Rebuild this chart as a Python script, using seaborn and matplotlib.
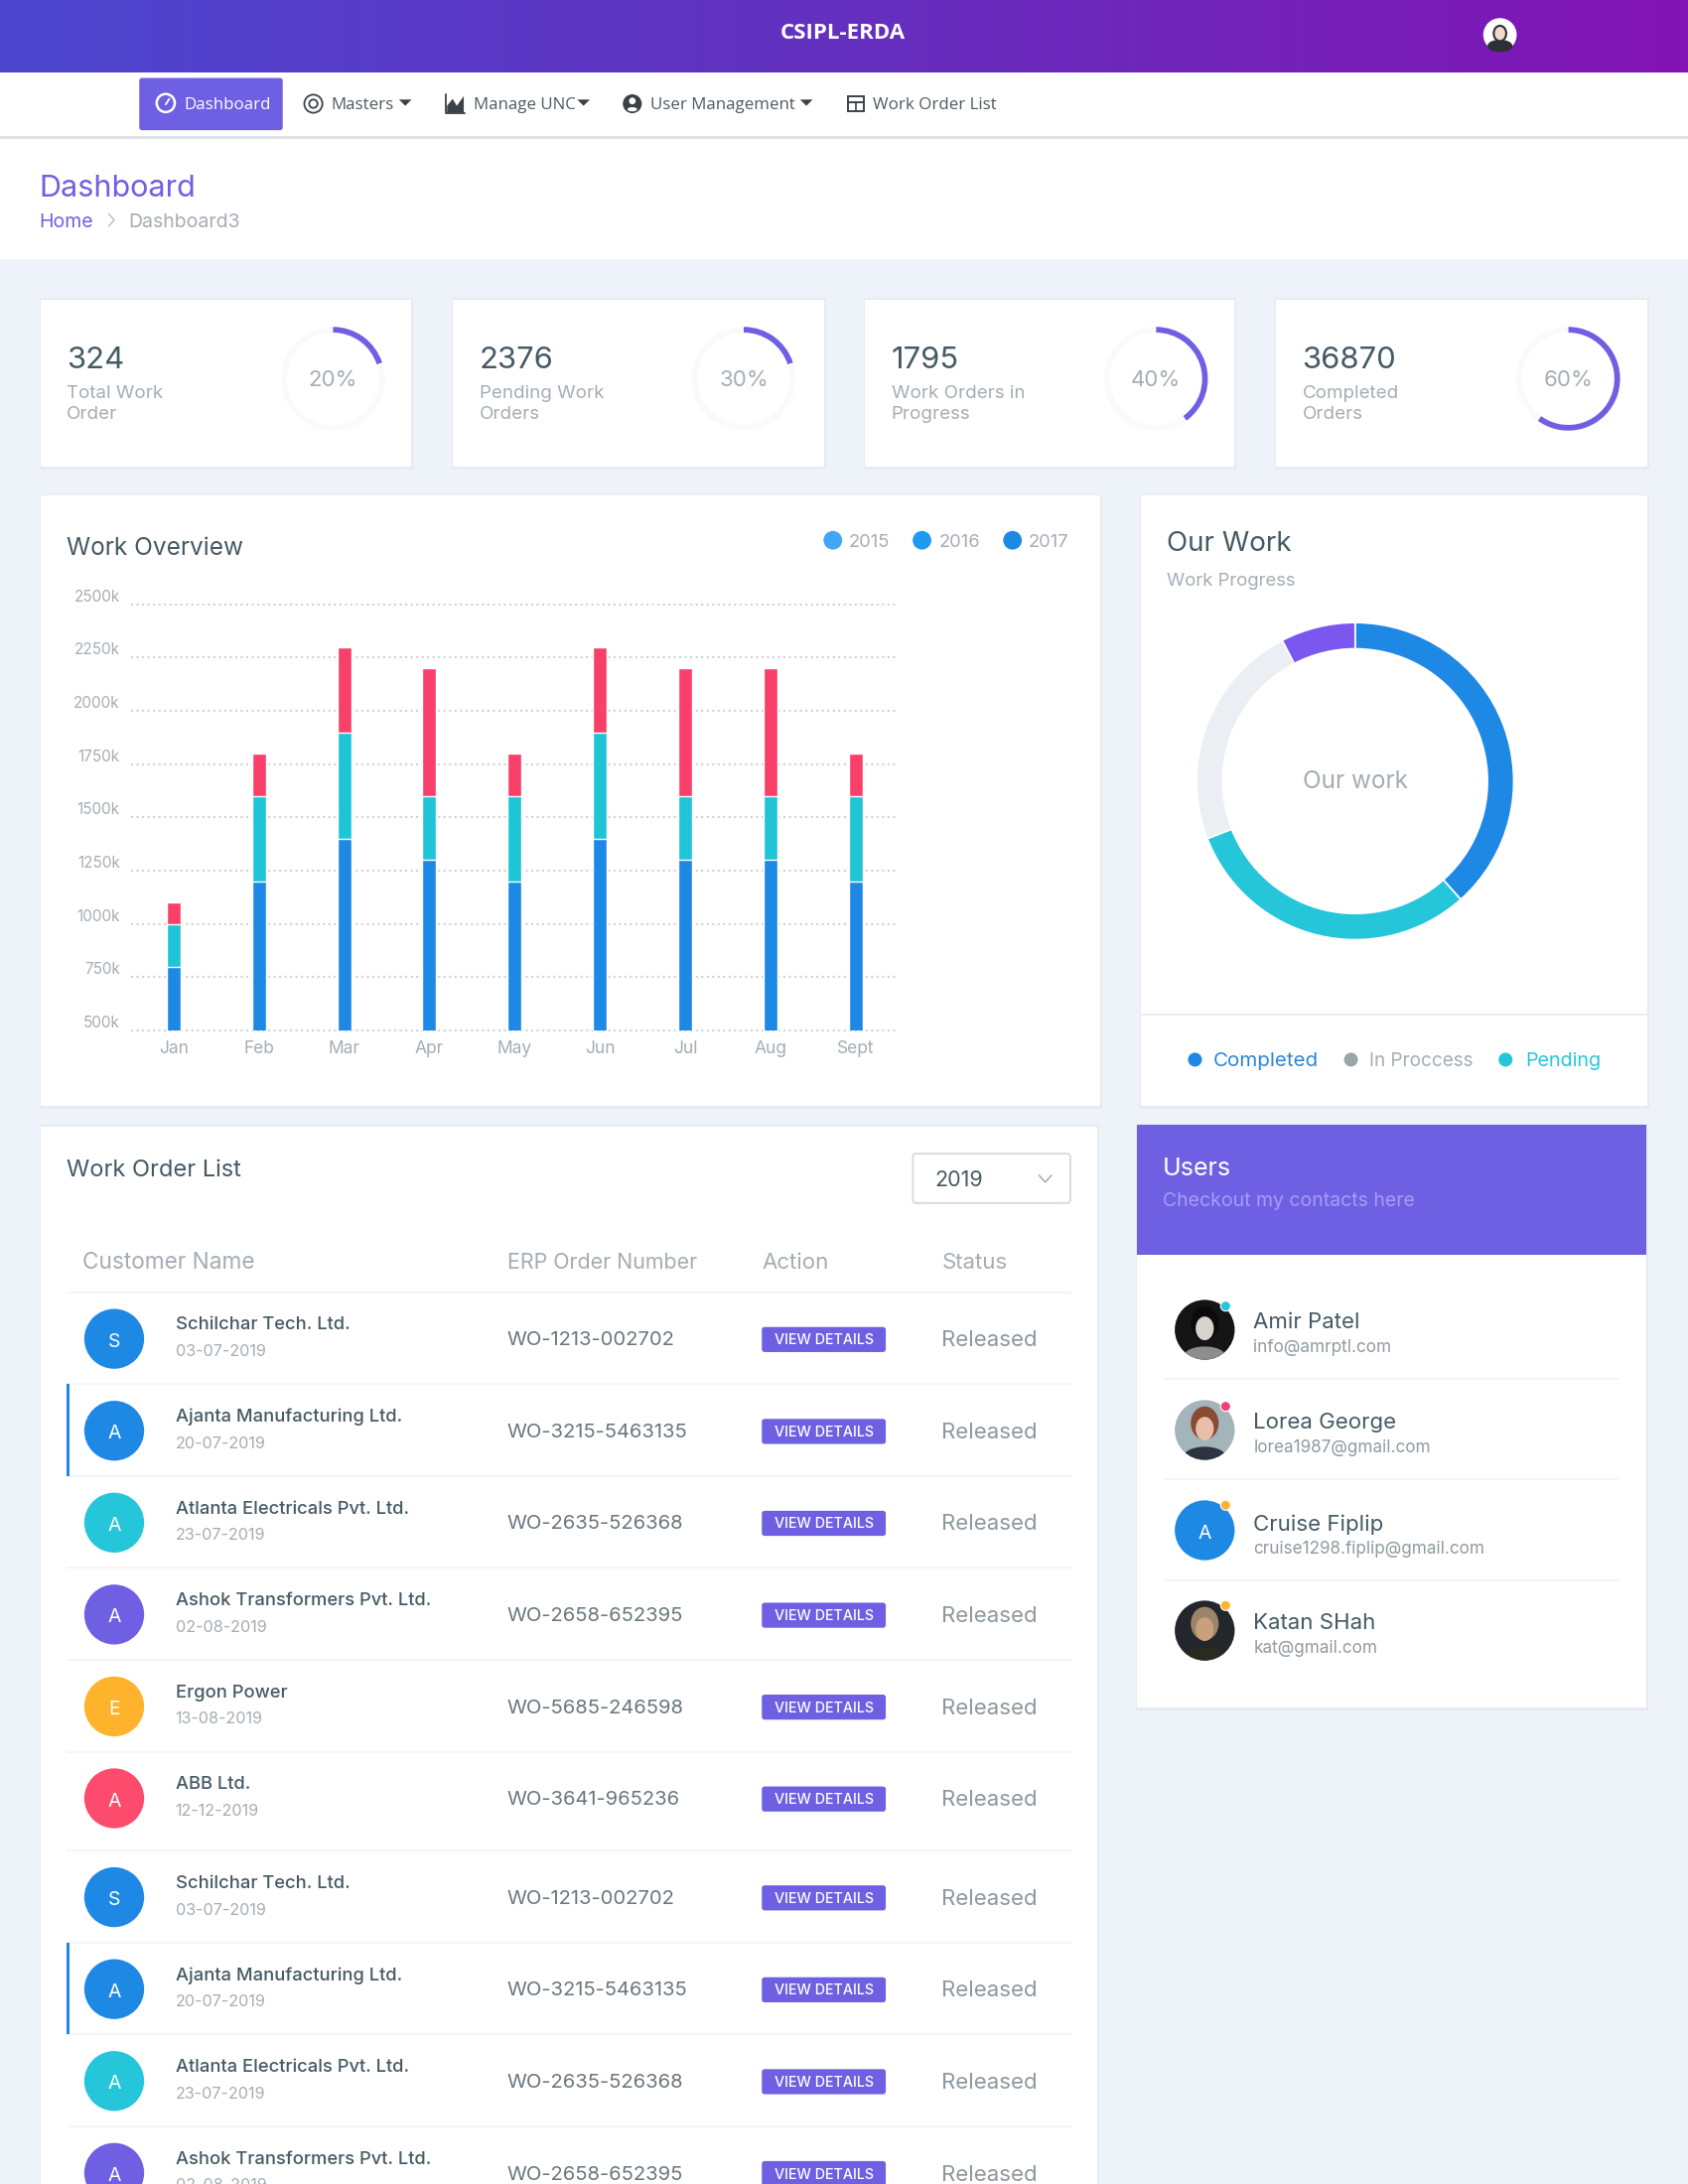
import numpy as np
import pandas as pd
import matplotlib
matplotlib.use("Agg")
import matplotlib.pyplot as plt
from matplotlib.patches import Circle, Ellipse, FancyBboxPatch, Rectangle, Polygon
import seaborn as sns

# ---------- data ----------
months = ["Jan", "Feb", "Mar", "Apr", "May", "Jun", "Jul", "Aug", "Sept"]
series_blue = [800, 1200, 1400, 1300, 1200, 1400, 1300, 1300, 1200]
series_teal = [200, 400, 500, 300, 400, 500, 300, 300, 400]
series_red = [100, 200, 400, 600, 200, 400, 600, 600, 200]
y_ticks = [500, 750, 1000, 1250, 1500, 1750, 2000, 2250, 2500]
legend_years = ["2015", "2016", "2017"]

stat_numbers = ["324", "2376", "1795", "36870"]
stat_line1 = ["Total Work", "Pending Work", "Work Orders in", "Completed"]
stat_line2 = ["Order", "Orders", "Progress", "Orders"]
stat_labels = ["20%", "30%", "40%", "60%"]
stat_fill = [20, 20, 40, 60]

donut_names = ["Completed", "Pending", "In Proccess", "Other"]
donut_values = [38.4, 30.7, 23.3, 7.6]

customers = ["Schilchar Tech. Ltd.", "Ajanta Manufacturing Ltd.", "Atlanta Electricals Pvt. Ltd.",
             "Ashok Transformers Pvt. Ltd.", "Ergon Power", "ABB Ltd.",
             "Schilchar Tech. Ltd.", "Ajanta Manufacturing Ltd.", "Atlanta Electricals Pvt. Ltd.",
             "Ashok Transformers Pvt. Ltd."]
dates = ["03-07-2019", "20-07-2019", "23-07-2019", "02-08-2019", "13-08-2019", "12-12-2019",
         "03-07-2019", "20-07-2019", "23-07-2019", "02-08-2019"]
orders = ["WO-1213-002702", "WO-3215-5463135", "WO-2635-526368", "WO-2658-652395",
          "WO-5685-246598", "WO-3641-965236", "WO-1213-002702", "WO-3215-5463135",
          "WO-2635-526368", "WO-2658-652395"]
users = ["Amir Patel", "Lorea George", "Cruise Fiplip", "Katan SHah"]
emails = ["info@amrptl.com", "lorea1987@gmail.com", "cruise1298.fiplip@gmail.com", "kat@gmail.com"]

# ---------- style ----------
BG = "#eef3fa"; PURPLE = "#6f5fe3"; BLUE = "#1e88e5"; TEAL = "#26c6da"; RED = "#f9406a"
ORANGE = "#ffb22b"; DARK = "#455a64"; MUTED = "#a4adb5"; LINE = "#f4f5f7"
sns.set_theme(style="white")
FONT = ["Inter", "DejaVu Sans"]
NAVFONT = ["Open Sans", "DejaVu Sans"]
plt.rcParams["font.family"] = FONT
plt.rcParams["ytick.alignment"] = "bottom"

W, H = 1212.0, 1212.0 * 22 / 17
fig = plt.figure(figsize=(17, 22), dpi=100, facecolor=BG)
L = fig.add_axes([0, 0, 1, 1])
L.set_xlim(0, W); L.set_ylim(H, 0); L.axis("off")


def T(x, y, s, size, color=DARK, weight="normal", ha="left", family=None, z=5):
    L.text(x, y + 1.7, s, fontsize=size, color=color, fontweight=weight, ha=ha, va="center",
           family=family or FONT, zorder=z)


def card(x0, y0, x1, y1, z=2):
    L.add_patch(Rectangle((x0 - 0.7, y0 - 1), x1 - x0 + 2, y1 - y0 + 3.5, fc="#e6ebf1", ec="none", zorder=z - 0.5))
    L.add_patch(Rectangle((x0, y0), x1 - x0, y1 - y0, fc="white", ec="none", zorder=z))


def inset(x0, y0, x1, y1):
    a = fig.add_axes([x0 / W, 1 - y1 / H, (x1 - x0) / W, (y1 - y0) / H])
    a.patch.set_alpha(0)
    return a


def face(cx, cy, bgc, skin, hair, shirt):
    base = Circle((cx, cy), 21.5, fc=bgc, ec="none", zorder=4)
    L.add_patch(base)
    parts = [Ellipse((cx, cy + 19), 30, 14, fc=shirt, ec="none", zorder=4.1),
             Ellipse((cx, cy - 5), 20, 24, fc=hair, ec="none", zorder=4.2),
             Ellipse((cx, cy - 1), 13, 17, fc=skin, ec="none", zorder=4.3)]
    for p in parts:
        L.add_patch(p)
        p.set_clip_path(base)


# ---------- header ----------
grad = np.array([[matplotlib.colors.to_rgb("#4c46cf"), matplotlib.colors.to_rgb("#6430bf"),
                  matplotlib.colors.to_rgb("#8213b4")]])
xx = np.linspace(0, 2, 256)
img = np.stack([np.interp(xx, [0, 1, 2], grad[0, :, c]) for c in range(3)], axis=-1)[None]
L.imshow(img, extent=(0, W, 52, 0), aspect="auto", zorder=10)
L.set_xlim(0, W); L.set_ylim(H, 0)
T(605.5, 22, "CSIPL-ERDA", 16, "white", "bold", "center", NAVFONT, 11)
L.add_patch(Circle((1077, 25), 12, fc="white", ec="none", zorder=11))
L.add_patch(Ellipse((1077, 33), 18, 9, fc="#2f2f38", ec="none", zorder=11.1))
L.add_patch(Ellipse((1077, 24), 9, 11, fc="#f0d8cc", ec="#2f2f38", lw=1.5, zorder=11.2))

# ---------- nav ----------
L.add_patch(Rectangle((0, 52), W, 46, fc="white", ec="none", zorder=3))
L.add_patch(Rectangle((0, 98), W, 2, fc="#dde1e6", ec="none", zorder=2.9))
L.add_patch(FancyBboxPatch((100, 56), 103, 37.5, boxstyle="round,pad=0,rounding_size=2", fc=PURPLE, ec="none", zorder=4))
T(132, 74, "Dashboard", 12.2, "white", family=NAVFONT)
T(238, 74, "Masters", 12.2, "#4d5a63", family=NAVFONT)
T(340, 74, "Manage UNC", 12.2, "#4d5a63", family=NAVFONT)
T(467, 74, "User Management", 12.2, "#4d5a63", family=NAVFONT)
T(627, 74, "Work Order List", 12.2, "#4d5a63", family=NAVFONT)
for cx in (291, 419, 579):
    L.add_patch(Polygon([(cx - 4.5, 71.5), (cx + 4.5, 71.5), (cx, 76)], fc="#3a4248", ec="none", zorder=5))
L.add_patch(Circle((119, 74), 6.5, fc="none", ec="white", lw=1.8, zorder=5))
L.plot([119, 121.5], [75, 71], color="white", lw=1.3, zorder=5)
L.add_patch(Circle((225, 74.5), 6.5, fc="none", ec="#3a4248", lw=1.3, zorder=5))
L.add_patch(Circle((225, 74.5), 3, fc="none", ec="#3a4248", lw=1.3, zorder=5))
L.plot([320, 320, 334], [68, 81, 81], color="#3a4248", lw=1.3, zorder=5)
L.add_patch(Polygon([(321, 81), (321, 76), (325, 71), (328, 76), (333, 69), (333, 81)], fc="#3a4248", ec="none", zorder=5))
L.add_patch(Circle((454, 74.5), 6.8, fc="#3a4248", ec="none", zorder=5))
L.add_patch(Circle((454, 72.5), 2.4, fc="white", ec="none", zorder=5.1))
L.add_patch(Ellipse((454, 78.5), 7, 3, fc="white", ec="none", zorder=5.1))
L.add_patch(Rectangle((608.5, 69.5), 12, 10, fc="none", ec="#3a4248", lw=1.4, zorder=5))
L.plot([608.5, 620.5], [73.5, 73.5], color="#3a4248", lw=1.4, zorder=5)
L.plot([614.5, 614.5], [73.5, 79.5], color="#3a4248", lw=1.2, zorder=5)

# ---------- breadcrumb ----------
L.add_patch(Rectangle((0, 100), W, 86, fc="white", ec="none", zorder=1))
T(28, 134, "Dashboard", 22, PURPLE)
T(28, 158, "Home", 14, PURPLE)
L.plot([78, 82, 78], [153.5, 158, 162.5], color="#b6bcc2", lw=1, zorder=5)
T(92, 158, "Dashboard3", 14, MUTED)

# ---------- stat cards ----------
stat_x0 = [29, 325, 621, 916]
stat_x1 = [295, 592, 886, 1183]
gauge_cx = [239, 534, 830, 1126]
for i in range(4):
    card(stat_x0[i], 215, stat_x1[i], 335)
    x = stat_x0[i] + 19
    T(x, 257, stat_numbers[i], 22.3, DARK)
    T(x, 281, stat_line1[i], 13.5, MUTED)
    T(x, 296, stat_line2[i], 13.5, MUTED)
    g = inset(gauge_cx[i] - 38, 272 - 38, gauge_cx[i] + 38, 272 + 38)
    g.pie([stat_fill[i], 100 - stat_fill[i]], colors=[PURPLE, "#fafafb"], startangle=90, counterclock=False,
          radius=1, wedgeprops=dict(width=0.11, edgecolor="none"))
    g.set_xlim(-1.02, 1.02); g.set_ylim(-1.02, 1.02)
    T(gauge_cx[i], 271.5, stat_labels[i], 16, MUTED, ha="center")

# ---------- work overview ----------
card(29, 356, 790, 794)
T(48, 392, "Work Overview", 17.6, DARK)
legend_c = ["#42a5f5", "#1e9bf0", BLUE]
for cx, tx, c, yr in zip((598, 662, 727), (609, 674, 738), legend_c, legend_years):
    L.add_patch(Circle((cx, 388), 6.7, fc=c, ec="none", zorder=5))
    T(tx, 388, yr, 13.2, MUTED)

df = pd.DataFrame({"month": months, "blue": series_blue, "teal": series_teal, "red": series_red})
df["top_teal"] = df["blue"] + df["teal"]
df["top_red"] = df["top_teal"] + df["red"]
ax = inset(94, 434, 645, 740)
for col, colr in (("top_red", RED), ("top_teal", "#1fc4d6"), ("blue", BLUE)):
    sns.barplot(data=df, x="month", y=col, color=colr, saturation=1, width=0.163, ax=ax, zorder=3)
ax.set_ylim(500, 2500)
ax.set_xlim(-0.5, 8.5)
ax.set_yticks(y_ticks)
ax.set_yticklabels([f"{v}k" for v in y_ticks])
ax.set_xlabel(""); ax.set_ylabel("")
ax.grid(axis="y", ls=":", lw=1.5, color="#cfd3d7", zorder=0)
for gl in ax.get_ygridlines():
    gl.set_clip_on(False)
ax.tick_params(axis="y", length=0, pad=8, labelsize=11, labelcolor=MUTED)
ax.tick_params(axis="x", length=0, pad=7, labelsize=12.5, labelcolor=MUTED)
sns.despine(ax=ax, left=True, bottom=True)

# ---------- our work ----------
card(819, 356, 1183, 794)
T(838, 389, "Our Work", 20, DARK)
T(838, 416, "Work Progress", 13.3, MUTED)
d = inset(973 - 115, 561 - 115, 973 + 115, 561 + 115)
d.pie(donut_values, colors=[BLUE, TEAL, "#ebeff3", "#7b57f0"], startangle=90, counterclock=False,
      radius=1, wedgeprops=dict(width=0.165, edgecolor="white", linewidth=1.2))
d.set_xlim(-1.01, 1.01); d.set_ylim(-1.01, 1.01)
T(973, 560, "Our work", 17.5, MUTED, ha="center")
L.plot([819, 1183], [728.5, 728.5], color="#e9ecef", lw=1.3, zorder=3)
for cx, tx, c, tc, n, fs in ((858, 871, BLUE, "#2d86d8", "Completed", 14.8),
                             (970, 983, "#9aa5a8", MUTED, "In Proccess", 13.6),
                             (1081, 1095, TEAL, TEAL, "Pending", 14.2)):
    L.add_patch(Circle((cx, 761), 5, fc=c, ec="none", zorder=5))
    T(tx, 760.5, n, fs, tc)

# ---------- users ----------
card(816, 808, 1182, 1226)
L.add_patch(Rectangle((816, 808), 366, 93, fc=PURPLE, ec="none", zorder=3))
T(835, 838, "Users", 18, "white", z=6)
T(835, 861, "Checkout my contacts here", 14, "#a79cf6", z=6)
uy = [955, 1027, 1099, 1171]
ny = [948, 1020, 1093, 1164]
ey = [966, 1038, 1111, 1182]
dotc = [TEAL, "#f0407a", ORANGE, ORANGE]
doty = [938, 1010, 1081, 1153]
for i in range(4):
    T(900, ny[i], users[i], 16, DARK)
    T(900, ey[i], emails[i], 12.3, "#8f9aa2")
    L.add_patch(Circle((880, doty[i]), 3.6, fc=dotc[i], ec="white", lw=0.8, zorder=6))
    if i < 3:
        L.plot([836, 1162], [ny[i] + 42, ny[i] + 42], color=LINE, lw=1.3, zorder=3)
face(865, uy[0], "#151515", "#d9d3cd", "#0b0b0b", "#8d8d8d")
face(865, uy[1], "#a3b4ba", "#e8bfa8", "#8a4a33", "#2b3440")
L.add_patch(Circle((865, uy[2]), 21.5, fc=BLUE, ec="none", zorder=4))
T(865, uy[2] + 1, "A", 14, "white", ha="center", z=5)
face(865, uy[3], "#23262b", "#caa07c", "#9c8468", "#2a2a20")

# ---------- work order list ----------
card(29, 809, 788, H + 10)
T(48, 839, "Work Order List", 17, DARK)
L.add_patch(FancyBboxPatch((655.5, 828.5), 113, 35.5, boxstyle="round,pad=0,rounding_size=2.5", fc="white", ec="#d9dde2", lw=1.5, zorder=4))
T(671, 846, "2019", 15.5, DARK)
L.plot([746, 750.5, 755], [844, 849, 844], color="#9aa3aa", lw=1, zorder=5)
for x, s, fs in ((59, "Customer Name", 16.3), (364, "ERP Order Number", 15.4), (547, "Action", 16), (676, "Status", 16)):
    T(x, 905.5, s, fs, MUTED)
L.plot([48, 769], [928, 928], color=LINE, lw=1.3, zorder=3)
row_y = [961, 1027, 1093, 1159, 1225, 1291, 1362, 1428, 1494, 1560]
av_c = [BLUE, BLUE, TEAL, PURPLE, ORANGE, "#fc4b6c", BLUE, BLUE, TEAL, PURPLE]
for i, y in enumerate(row_y):
    L.add_patch(Circle((82, y + 0.5), 21.5, fc=av_c[i], ec="none", zorder=4))
    T(82, y + 1, customers[i][0], 14, "white", ha="center")
    T(126, y - 11, customers[i], 13.2, DARK, "medium")
    T(126, y + 8, dates[i], 11.6, MUTED)
    T(364, y, orders[i], 14.5, "#69767e")
    L.add_patch(FancyBboxPatch((547, y - 8), 89, 18, boxstyle="round,pad=0,rounding_size=2", fc=PURPLE, ec="none", zorder=4))
    T(591.5, y, "VIEW DETAILS", 10.3, "white", "medium", "center")
    T(676, y, "Released", 16, "#8c979e")
    if i < 9:
        sep = y + 33 if i != 5 else y + 38
        L.plot([48, 769], [sep, sep], color=LINE, lw=1.3, zorder=3)
for y0 in (994, 1395):
    L.add_patch(Rectangle((48, y0), 2, 66, fc=BLUE, ec="none", zorder=5))

fig.savefig("out.png", dpi=100, facecolor=BG)
